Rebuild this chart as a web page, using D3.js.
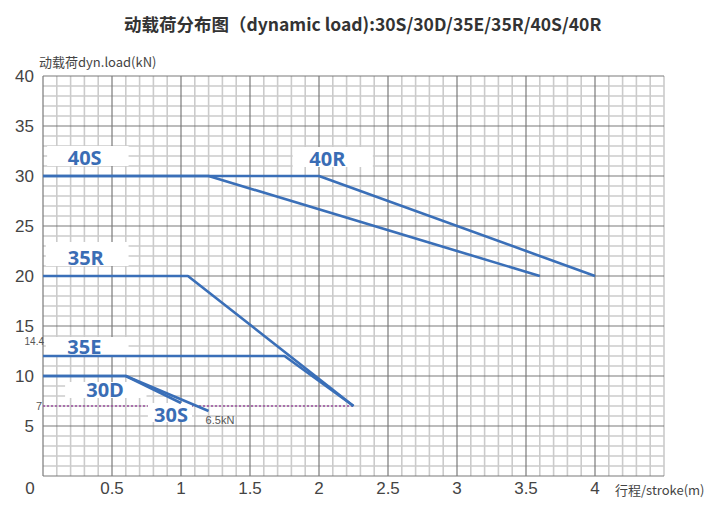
<!DOCTYPE html>
<html><head><meta charset="utf-8">
<script src="https://cdn.jsdelivr.net/npm/d3@7"></script>
<style>body{margin:0;background:#fff}svg{display:block}</style>
</head><body>
<svg id="c" width="714" height="520"></svg>
<script>
// ---- data ----
const seriesNames = ["40R","40S","35R","35E","30S","30D"];
const series40R = [[0,30],[2.0,30],[4.0,20]];
const series40S = [[0,30],[1.2,30],[3.6,20]];
const series35R = [[0,20],[1.05,20],[2.25,7]];
const series35E = [[0,12],[1.75,12],[2.25,7]];
const series30S = [[0,10],[0.6,10],[1.2,6.5]];
const series30D = [[0,10],[0.6,10],[1.0,7.3]];
const xTicks = [0.5,1,1.5,2,2.5,3,3.5,4];
const yTicks = [5,10,15,20,25,30,35,40];
const refLineY = 7;        // dotted reference at 7 kN
const refLineXEnd = 2.25;
const title = "动载荷分布图（dynamic load):30S/30D/35E/35R/40S/40R";

const svg = d3.select("#c");
const x = d3.scaleLinear().domain([0,4.5]).range([43,664]);
const y = d3.scaleLinear().domain([0,40]).range([476,76]);
const blue = "#3a6db5";

// grid
const g = svg.append("g");
const xMinor = d3.range(0,46).map(i=>i/10);
const yMinor = d3.range(0,41);
g.selectAll(".vm").data(xMinor.filter(v=>Math.round(v*10)%5!==0 || v>4.01)).enter().append("line")
  .attr("x1",d=>x(d)).attr("x2",d=>x(d)).attr("y1",y(0)).attr("y2",y(40))
  .attr("stroke","#cbcbcb").attr("stroke-width",1.6);
g.selectAll(".hm").data(yMinor.filter(v=>v%5!==0)).enter().append("line")
  .attr("x1",x(0)).attr("x2",x(4.5)).attr("y1",d=>y(d)).attr("y2",d=>y(d))
  .attr("stroke","#cbcbcb").attr("stroke-width",1.6);
g.selectAll(".vM").data(d3.range(0,9).map(i=>i/2)).enter().append("line")
  .attr("x1",d=>x(d)).attr("x2",d=>x(d)).attr("y1",y(0)).attr("y2",y(40))
  .attr("stroke","#7a7a7a").attr("stroke-width",1.2);
g.selectAll(".hM").data(d3.range(0,41,5)).enter().append("line")
  .attr("x1",x(0)).attr("x2",x(4.5)).attr("y1",d=>y(d)).attr("y2",d=>y(d))
  .attr("stroke","#7a7a7a").attr("stroke-width",1.2);

// dotted reference line
svg.append("line").attr("x1",x(0)).attr("x2",x(refLineXEnd)).attr("y1",y(refLineY)).attr("y2",y(refLineY))
  .attr("stroke","#9b4d9e").attr("stroke-width",1.6).attr("stroke-dasharray","2,2");

// label boxes [name, x0,x1 (data), yTop,yBottom (data), text x (data), baseline y (data), anchor]
const labelBoxes = [
  ["40S", 0.03,0.62, 33.0,31.0, 0.302,31.1, "middle"],
  ["40R", 1.81,2.39, 32.9,30.9, 1.93,31.0, "start"],
  ["35R", 0.02,0.62, 23.4,21.0, 0.31,21.1, "middle"],
  ["35E", 0.02,0.62, 13.9,12.1, 0.30,12.25, "middle"],
  ["30D", 0.16,0.75, 9.4,7.8, 0.45,7.9, "middle"],
  ["30S", 0.76,1.08, 7.3,5.4, 0.805,5.45, "start"]
];
svg.selectAll(".bx").data(labelBoxes).enter().append("rect")
  .attr("x",d=>x(d[1])).attr("width",d=>x(d[2])-x(d[1]))
  .attr("y",d=>y(d[3])).attr("height",d=>y(d[4])-y(d[3]))
  .attr("fill","#fff");

// lines
const line = d3.line().x(d=>x(d[0])).y(d=>y(d[1]));
const allSeries = [series40R,series40S,series35R,series35E,series30S,series30D];
svg.selectAll(".ln").data(allSeries).enter().append("path")
  .attr("d",line).attr("fill","none").attr("stroke","#3a6fb8").attr("stroke-width",2.6)
  .attr("stroke-linejoin","round");

// label texts
svg.selectAll(".lt").data(labelBoxes).enter().append("text")
  .attr("x",d=>x(d[5])).attr("y",d=>y(d[6]))
  .attr("text-anchor",d=>d[7])
  .attr("font-family","'Open Sans',sans-serif").attr("font-weight","bold")
  .attr("font-size",20).attr("fill",blue).text(d=>d[0]);

// axis tick labels
const tickFont = "'Liberation Sans Narrow','Liberation Sans',Arial,sans-serif";
svg.selectAll(".yt").data(yTicks).enter().append("text")
  .attr("x",34).attr("y",d=>y(d)).attr("dy","0.35em").attr("text-anchor","end")
  .attr("font-family",tickFont).attr("font-size",17).attr("fill","#444").text(d=>d);
svg.selectAll(".xt").data(xTicks).enter().append("text")
  .attr("x",d=>x(d)).attr("y",494).attr("text-anchor","middle")
  .attr("font-family",tickFont).attr("font-size",17).attr("fill","#444").text(d=>d);
svg.append("text").attr("x",30).attr("y",494).attr("text-anchor","middle")
  .attr("font-family",tickFont).attr("font-size",17).attr("fill","#444").text("0");

// small annotations
const smallFont = "'Liberation Sans',Arial,sans-serif";
svg.append("text").attr("x",44).attr("y",y(14.4)+13).attr("text-anchor","end")
  .attr("font-family",smallFont).attr("font-size",10).attr("fill","#555").text("14.4");
svg.append("text").attr("x",42).attr("y",y(refLineY)+4).attr("text-anchor","end")
  .attr("font-family",smallFont).attr("font-size",11).attr("fill","#555").text("7");
svg.append("text").attr("x",x(1.2)-3).attr("y",y(6.5)+13)
  .attr("font-family",smallFont).attr("font-size",11).attr("fill","#555").text("6.5kN");

// axis titles
svg.append("text").attr("x",39).attr("y",67)
  .attr("font-family","'Noto Sans CJK SC',sans-serif").attr("font-size",13).attr("fill","#444")
  .text("动载荷dyn.load(kN)");
svg.append("text").attr("x",615).attr("y",495)
  .attr("font-family","'Noto Sans CJK SC',sans-serif").attr("font-size",13).attr("fill","#444")
  .text("行程/stroke(m)");

// title
svg.append("text").attr("x",124).attr("y",31)
  .attr("font-family","'Noto Sans CJK SC',sans-serif").attr("font-weight","bold")
  .attr("font-size",17.5).attr("fill","#333").text(title);
</script>
</body></html>
